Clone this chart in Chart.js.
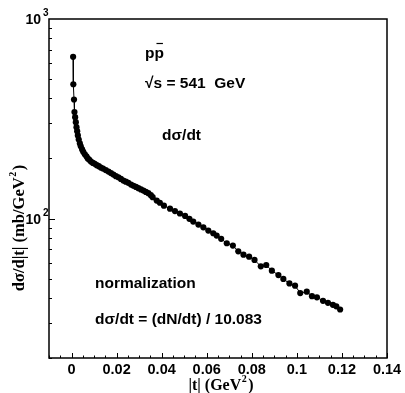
<!DOCTYPE html>
<html>
<head>
<meta charset="utf-8">
<script src="https://cdn.jsdelivr.net/npm/chart.js@4.4.1/dist/chart.umd.min.js"></script>
<style>
    html, body { margin: 0; padding: 0; background: #ffffff; }
</style>
</head>
<body>
<canvas id="dsdtChart" width="405" height="393"></canvas>
<script>
// |t| in GeV^2
const tValues = [
    0.0007, 0.0008, 0.0011, 0.0013, 0.0016, 0.0019, 0.0022, 0.0025, 0.0028, 0.0032,
    0.0037, 0.0041, 0.0047, 0.0052, 0.0059, 0.0066, 0.0072, 0.0079, 0.0086, 0.0095,
    0.0103, 0.0112, 0.0121, 0.0130, 0.0140, 0.0152, 0.0164, 0.0175, 0.0186, 0.0197,
    0.0208, 0.0219, 0.0230, 0.0241, 0.0252, 0.0264, 0.0275, 0.0286, 0.0297, 0.0308,
    0.0319, 0.0330, 0.0341, 0.0352, 0.0360, 0.0378, 0.0392, 0.0410, 0.0437, 0.0459,
    0.0481, 0.0504, 0.0523, 0.0540, 0.0563, 0.0585, 0.0607, 0.0629, 0.0644, 0.0664,
    0.0689, 0.0716, 0.0740, 0.0763, 0.0788, 0.0812, 0.0840, 0.0864, 0.0889, 0.0918,
    0.0940, 0.0967, 0.0992, 0.1015, 0.1044, 0.1067, 0.1089, 0.1116, 0.1138, 0.1160,
    0.1175, 0.1192
];
// d(sigma)/dt in mb/GeV^2
const dsdtValues = [
    646, 471, 395, 342, 322, 304, 287, 274, 261, 249,
    238, 230, 222, 216, 210, 205, 200, 197, 193, 190,
    188, 185, 183, 180, 178, 175, 172, 169, 166, 163,
    161, 158, 155, 153, 151, 148, 146, 144, 142, 140,
    138, 136, 134, 131, 128, 123, 120, 116, 112, 109,
    106, 103, 99.7, 96.6, 93.3, 90.4, 87.0, 84.4, 82.1, 79.1,
    75.2, 73.2, 68.5, 65.9, 64.4, 62.0, 57.6, 58.5, 54.8, 52.1,
    49.8, 47.3, 46.1, 42.3, 43.0, 40.8, 40.3, 38.7, 37.8, 36.96,
    36.3, 35.0
];

const xTickValues = [0, 0.02, 0.04, 0.06, 0.08, 0.1, 0.12, 0.14];
const xTickLabels = ['0', '0.02', '0.04', '0.06', '0.08', '0.1', '0.12', '0.14'];
const yDecadeValues = [100, 1000];
const yDecadeExponents = ['2', '3'];

const boldSans = '"Liberation Sans", Arial, sans-serif';
const boldSerif = '"Liberation Serif", "Times New Roman", serif';

const framePlugin = {
    id: 'framePlugin',
    afterDraw(chart) {
        const ctx = chart.ctx;
        const area = chart.chartArea;
        const xs = chart.scales.x;
        const ys = chart.scales.y;

        ctx.save();
        ctx.strokeStyle = '#000';
        ctx.fillStyle = '#000';

        // frame
        ctx.lineWidth = 1.5;
        ctx.strokeRect(area.left, area.top, area.right - area.left, area.bottom - area.top);

        // x ticks, inside, every 0.005
        ctx.lineWidth = 1;
        for (let i = -2; i <= 28; i++) {
            const px = Math.round(xs.getPixelForValue(i * 0.005)) + 0.5;
            const len = (i % 4 === 0) ? 5 : 2.5;
            ctx.beginPath();
            ctx.moveTo(px, area.bottom);
            ctx.lineTo(px, area.bottom - len);
            ctx.stroke();
        }

        // y ticks, inside, log decades
        for (let d = 10; d <= 100; d *= 10) {
            for (let m = 1; m <= 9; m++) {
                const v = d * m;
                if (v < 20 || v > 1000) continue;
                const py = Math.round(ys.getPixelForValue(v)) + 0.5;
                const len = (m === 1) ? 6 : 3;
                ctx.beginPath();
                ctx.moveTo(area.left, py);
                ctx.lineTo(area.left + len, py);
                ctx.stroke();
            }
        }

        // x tick labels
        ctx.font = 'bold 14.5px ' + boldSans;
        ctx.textAlign = 'center';
        ctx.textBaseline = 'alphabetic';
        xTickValues.forEach((v, i) => {
            ctx.fillText(xTickLabels[i], xs.getPixelForValue(v), area.bottom + 16);
        });

        // y decade labels with superscripts
        yDecadeValues.forEach((v, i) => {
            const py = ys.getPixelForValue(v);
            ctx.font = 'bold 14px ' + boldSans;
            ctx.textAlign = 'right';
            ctx.fillText('10', area.left - 8, py + 5);
            ctx.font = 'bold 10px ' + boldSans;
            ctx.textAlign = 'left';
            ctx.fillText(yDecadeExponents[i], area.left - 6, py - 3);
        });

        // x axis title
        ctx.font = 'bold 16px ' + boldSerif;
        ctx.textAlign = 'left';
        const xTitle = '|t| (GeV';
        const xw = ctx.measureText(xTitle + ')').width + 7;
        const xStart = 221 - xw / 2;
        ctx.fillText(xTitle, xStart, 390);
        let w1 = ctx.measureText(xTitle).width;
        ctx.font = 'bold 10px ' + boldSerif;
        ctx.fillText('2', xStart + w1 + 0.5, 382);
        ctx.font = 'bold 16px ' + boldSerif;
        ctx.fillText(')', xStart + w1 + 7, 390);

        // y axis title (rotated)
        ctx.save();
        ctx.translate(24, 228);
        ctx.rotate(-Math.PI / 2);
        ctx.font = 'bold 16.5px ' + boldSerif;
        const yTitle = 'd\u03c3/d|t| (mb/GeV';
        const yw = ctx.measureText(yTitle + ')').width + 7;
        const yStart = -yw / 2;
        ctx.fillText(yTitle, yStart, 0);
        w1 = ctx.measureText(yTitle).width;
        ctx.font = 'bold 10px ' + boldSerif;
        ctx.fillText('2', yStart + w1 + 0.5, -8);
        ctx.font = 'bold 16.5px ' + boldSerif;
        ctx.fillText(')', yStart + w1 + 7, 0);
        ctx.restore();

        // annotations
        ctx.font = 'bold 15.5px ' + boldSans;
        ctx.textAlign = 'left';
        ctx.fillText('pp', 145, 58);
        const pw = ctx.measureText('p').width;
        ctx.lineWidth = 1.2;
        ctx.beginPath();
        ctx.moveTo(145 + pw + 2, 43.5);
        ctx.lineTo(145 + 2 * pw - 1, 43.5);
        ctx.stroke();
        ctx.fillText('\u221as = 541  GeV', 145, 88);
        ctx.fillText('d\u03c3/dt', 162, 140);
        ctx.fillText('normalization', 95, 288);
        ctx.fillText('d\u03c3/dt = (dN/dt) / 10.083', 95, 324);

        ctx.restore();
    }
};

const ctx = document.getElementById('dsdtChart').getContext('2d');

const dsdtChart = new Chart(ctx, {
    type: 'scatter',
    data: {
        datasets: [{
            data: tValues.map((t, i) => ({ x: t, y: dsdtValues[i] })),
            showLine: true,
            borderColor: '#000',
            borderWidth: 1,
            backgroundColor: '#000',
            pointRadius: 3.1,
            pointBorderWidth: 0,
            pointBackgroundColor: '#000',
            tension: 0
        }]
    },
    options: {
        responsive: false,
        animation: false,
        devicePixelRatio: 1,
        layout: {
            padding: { left: 49, right: 18, top: 19, bottom: 35 }
        },
        plugins: {
            legend: { display: false },
            tooltip: { enabled: false }
        },
        scales: {
            x: {
                type: 'linear',
                min: -0.01,
                max: 0.14,
                display: false
            },
            y: {
                type: 'logarithmic',
                min: 20,
                max: 1000,
                display: false
            }
        }
    },
    plugins: [framePlugin]
});
</script>
</body>
</html>
